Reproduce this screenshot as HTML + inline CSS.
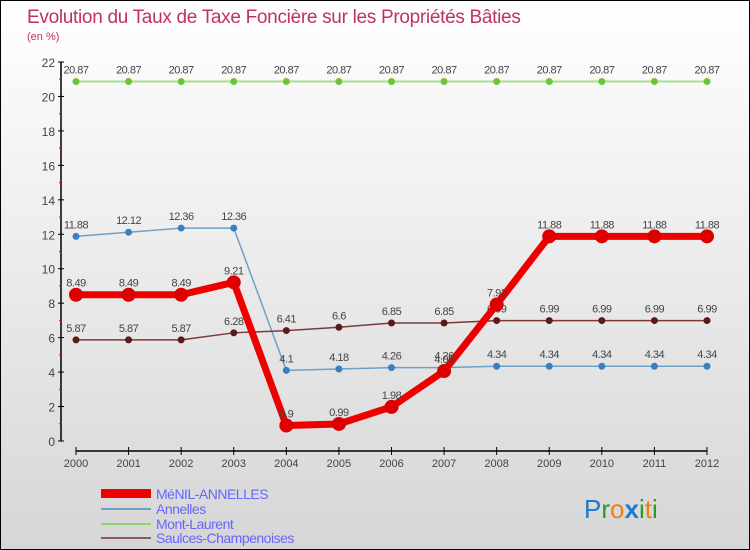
<!DOCTYPE html>
<html><head><meta charset="utf-8"><style>
body{margin:0}
#c{width:748px;height:548px;border:1px solid #000;background:linear-gradient(#ffffff,#d6d6d6);position:relative;overflow:hidden;font-family:"Liberation Sans",sans-serif}
</style></head><body>
<div id="c">
<svg width="748" height="548" id="s">
<text x="26" y="22" font-size="19" fill="#c0306a" letter-spacing="-0.3">Evolution du Taux de Taxe Foncière sur les Propriétés Bâties</text>
<text x="26" y="39" font-size="11" fill="#c0306a">(en %)</text>
<g id="ax"></g><g id="ser"></g>
<g>
<rect x="100" y="488" width="50" height="9" fill="#e00"/>
<text x="155" y="498" font-size="14" fill="#66f" letter-spacing="-0.5">MéNIL-ANNELLES</text>
<line x1="100" x2="150" y1="508" y2="508" stroke="#6fa0c8" stroke-width="2"/>
<text x="155" y="513" font-size="14" fill="#66f" letter-spacing="-0.5">Annelles</text>
<line x1="100" x2="150" y1="523" y2="523" stroke="#8fd46a" stroke-width="2"/>
<text x="155" y="528" font-size="14" fill="#66f" letter-spacing="-0.5">Mont-Laurent</text>
<line x1="100" x2="150" y1="537" y2="537" stroke="#8a5a5a" stroke-width="2"/>
<text x="155" y="542" font-size="14" fill="#66f" letter-spacing="-0.5">Saulces-Champenoises</text>
</g>
<text x="583" y="517" font-size="26"><tspan fill="#1a7ad0">P</tspan><tspan fill="#2a9a2a">r</tspan><tspan fill="#f08010">o</tspan><tspan fill="#1a7ad0" font-weight="bold">x</tspan><tspan fill="#2a9a2a">i</tspan><tspan fill="#f08010">t</tspan><tspan fill="#2a9a2a">i</tspan></text>
</svg>
</div>
<script>
const years=[2000,2001,2002,2003,2004,2005,2006,2007,2008,2009,2010,2011,2012];
const yTicks=[0,2,4,6,8,10,12,14,16,18,20,22];
const menil=[8.49,8.49,8.49,9.21,0.9,0.99,1.98,4.06,7.92,11.88,11.88,11.88,11.88];
const annelles=[11.88,12.12,12.36,12.36,4.1,4.18,4.26,4.26,4.34,4.34,4.34,4.34,4.34];
const montLaurent=[20.87,20.87,20.87,20.87,20.87,20.87,20.87,20.87,20.87,20.87,20.87,20.87,20.87];
const saulces=[5.87,5.87,5.87,6.28,6.41,6.6,6.85,6.85,6.99,6.99,6.99,6.99,6.99];
const NS="http://www.w3.org/2000/svg";
function X(i){return 75+i*(706-75)/(years.length-1);}
function Y(v){return 440-v*(440-61)/22;}
function mk(t,a,p){const e=document.createElementNS(NS,t);for(const k in a)e.setAttribute(k,a[k]);p.appendChild(e);return e;}
const ax=document.getElementById('ax');
const ya=mk('line',{x1:60,x2:60,y1:Y(22),y2:Y(0),stroke:'#000','stroke-width':1.5},ax);


yTicks.forEach(v=>{
  mk('line',{x1:57,x2:63,y1:Y(v),y2:Y(v),stroke:'#000'},ax);
  if(v<22) mk('line',{x1:58,x2:61,y1:Y(v+1),y2:Y(v+1),stroke:'#e00'},ax);
  const t=mk('text',{x:54,y:Y(v)+5,'font-size':12,fill:'#444','text-anchor':'end'},ax);t.textContent=v;
  
  
});
const xa=mk('line',{x1:X(0),x2:X(years.length-1),y1:450,y2:450,stroke:'#000','stroke-width':1.5},ax);


years.forEach((y,i)=>{
  mk('line',{x1:X(i),x2:X(i),y1:446,y2:454,stroke:'#000'},ax);
  const t=mk('text',{x:X(i),y:466,'font-size':11,fill:'#444','text-anchor':'middle'},ax);t.textContent=y;
  
  
});
const ser=document.getElementById('ser');
function series(vals,color,dot,w,r,name){
  const g=mk('g',{},ser);
  
  
  mk('polyline',{points:vals.map((v,i)=>X(i)+','+Y(v)).join(' '),fill:'none',stroke:color,'stroke-width':w,'stroke-linejoin':'round'},g);
  vals.forEach((v,i)=>{
    const c=mk('circle',{cx:X(i),cy:Y(v),r:r,fill:dot},g);
    
    
    const t=mk('text',{x:X(i),y:Y(v)-8,'font-size':11,fill:'#444','text-anchor':'middle','letter-spacing':'-0.5'},g);t.textContent=v;
    
    
  });
}
series(montLaurent,'#a8e08a','#6cc43a',2,3.5,'mont-laurent-series');
series(annelles,'#6fa0c8','#3a80c0',1.5,3.5,'annelles-series');
series(saulces,'#7a3a3a','#5a1a1a',1.5,3.5,'saulces-series');
series(menil,'#ee0000','#dd0000',7,7,'menil-series');
</script>
</body></html>
